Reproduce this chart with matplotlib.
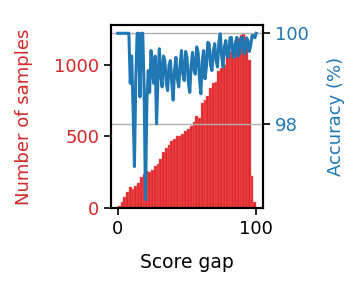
import numpy as np
import matplotlib
matplotlib.use('Agg')
import matplotlib.pyplot as plt

# histogram of score gaps (bins of width 2 from 0 to 100)
bin_left = np.arange(0, 100, 2)
counts = [15, 45, 75, 110, 150, 135, 155, 175, 215, 240,
          255, 250, 268, 290, 305, 345, 390, 420, 440, 465,
          480, 505, 500, 515, 535, 548, 575, 600, 640, 625,
          730, 752, 780, 840, 870, 880, 955, 975, 1000, 1060,
          1085, 1095, 1140, 1185, 1205, 1215, 1150, 1030, 220, 45]

# accuracy per score gap (0..100)
acc_x = np.arange(0, 101)
accuracy = [100, 100, 100, 100, 100, 100, 100, 100, 100, 98.9,
            99.5, 98.4, 97.07, 99.0, 100, 100, 98.6, 100, 100, 98.8,
            96.34, 98.5, 99.18, 98.7, 99.62, 99.2, 98.9, 99.5, 98.01, 99.0,
            99.66, 99.1, 98.82, 99.5, 99.4, 98.9, 98.74, 99.3, 99.4, 98.9,
            98.53, 99.2, 99.47, 99.0, 98.82, 99.3, 99.62, 99.1, 98.96, 99.6,
            99.47, 98.9, 98.7, 99.3, 99.58, 99.2, 99.1, 99.7, 99.58, 99.0,
            98.67, 99.4, 99.62, 99.0, 99.26, 99.8, 99.77, 99.3, 99.18, 99.6,
            99.77, 99.4, 99.26, 99.8, 99.99, 99.5, 99.26, 99.7, 99.84, 99.5,
            99.47, 99.9, 99.91, 99.6, 99.47, 99.8, 99.91, 99.5, 99.55, 99.9,
            99.91, 99.6, 99.55, 99.9, 99.84, 99.6, 99.73, 99.95, 99.95, 99.9,
            100]

red = '#d62728'
blue = '#1f77b4'
fs = 13

fig = plt.figure(figsize=(3.6, 2.87), dpi=100)
ax1 = fig.add_axes([0.308, 0.275, 0.423, 0.638])
ax1.bar(bin_left, counts, width=2, align='edge', color='#e2282d',
        edgecolor='#f07070', linewidth=0.3)
ax1.set_xlabel('Score gap', fontsize=fs + 0.5, labelpad=11)
ax1.set_ylabel('Number of samples', color=red, fontsize=fs, labelpad=15)
ax1.tick_params(axis='y', colors=red, labelsize=fs)
ax1.tick_params(axis='x', labelsize=fs)
ax1.set_yticks([0, 500, 1000])
ax1.set_xticks([0, 100])

ax2 = ax1.twinx()
ax2.grid(axis='y', color='#b0b0b0', linewidth=1)
ax2.plot(acc_x, accuracy, color=blue, linewidth=2.2)
ax2.set_ylabel('Accuracy (%)', color=blue, fontsize=fs, labelpad=13)
ax2.tick_params(axis='y', colors=blue, labelsize=fs)
ax2.set_yticks([98, 100])

for ax in (ax1, ax2):
    for s in ax.spines.values():
        s.set_linewidth(1.5)
        s.set_color('black')
    ax.tick_params(color='black', length=5, width=1.2)

fig.savefig('out.png', dpi=100)
